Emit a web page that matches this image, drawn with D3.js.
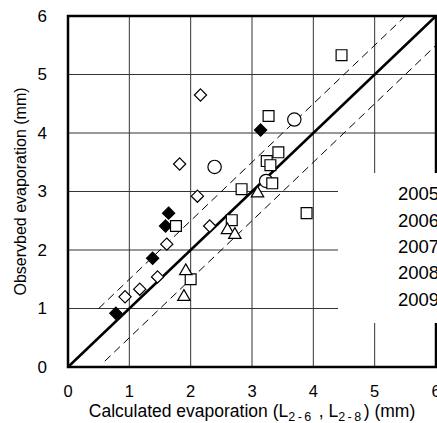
<!DOCTYPE html>
<html lang="en">
<head>
<meta charset="UTF-8" />
<title>Observed vs calculated evaporation</title>
<style>
  body { margin: 0; background: #fff; }
  svg text { font-family: "Liberation Sans", Arial, sans-serif; fill: #000; }
</style>
</head>
<body>
<svg width="437" height="423"></svg>
<script src="https://d3js.org/d3.v7.min.js"></script>
<script>
// data: [calculated, observed]
var years = ["2005", "2006", "2007", "2008", "2009"];
var shapes = ["filledDiamond", "diamond", "square", "triangle", "circle"];

var s2005 = [[0.78, 0.92], [1.38, 1.86], [1.59, 2.41], [1.64, 2.63], [3.14, 4.05]];
var s2006 = [[0.93, 1.20], [1.17, 1.33], [1.46, 1.54], [1.61, 2.10], [2.31, 2.41],
             [2.11, 2.92], [1.82, 3.47], [2.16, 4.65]];
var s2007 = [[1.76, 2.41], [2.00, 1.50], [2.83, 3.04], [2.67, 2.51], [3.24, 3.52],
             [3.30, 3.45], [3.33, 3.14], [3.43, 3.67], [3.27, 4.29], [4.46, 5.33], [3.89, 2.63]];
var s2008 = [[1.92, 1.64], [1.89, 1.20], [3.09, 2.97], [2.60, 2.34], [2.72, 2.26]];
var s2009 = [[2.39, 3.42], [3.69, 4.23], [3.23, 3.18]];
var series = [s2005, s2006, s2007, s2008, s2009];

var ticks = [0, 1, 2, 3, 4, 5, 6];

var svg = d3.select("svg"),
    margin = {top: 16, right: 1, bottom: 56, left: 68},
    width = +svg.attr("width") - margin.left - margin.right,
    height = +svg.attr("height") - margin.top - margin.bottom;

var x = d3.scaleLinear().domain([0, 6]).range([0, width]);
var y = d3.scaleLinear().domain([0, 6]).range([height, 0]);

var g = svg.append("g")
    .attr("transform", "translate(" + margin.left + "," + margin.top + ")");

// grid
g.append("g").selectAll("line").data(ticks.slice(1, 6)).enter().append("line")
    .attr("x1", d => x(d)).attr("x2", d => x(d))
    .attr("y1", 0).attr("y2", height)
    .attr("stroke", "#333").attr("stroke-width", 1);
g.append("g").selectAll("line").data(ticks.slice(1, 6)).enter().append("line")
    .attr("y1", d => y(d)).attr("y2", d => y(d))
    .attr("x1", 0).attr("x2", width)
    .attr("stroke", "#333").attr("stroke-width", 1);

// 1:1 line and +/-0.5 band
var line = d3.line().x(d => x(d[0])).y(d => y(d[1]));
g.append("path").datum([[0.5, 1.0], [5.5, 6.0]]).attr("d", line)
    .attr("fill", "none").attr("stroke", "#000").attr("stroke-width", 1)
    .attr("stroke-dasharray", "8,5");
g.append("path").datum([[0.6, 0.1], [6.0, 5.5]]).attr("d", line)
    .attr("fill", "none").attr("stroke", "#000").attr("stroke-width", 1)
    .attr("stroke-dasharray", "8,5");
g.append("path").datum([[0, 0], [6, 6]]).attr("d", line)
    .attr("fill", "none").attr("stroke", "#000").attr("stroke-width", 2.5);

// markers
var symType = {
  filledDiamond: d3.symbolDiamond2, diamond: d3.symbolDiamond2,
  square: d3.symbolSquare2, triangle: d3.symbolTriangle2, circle: d3.symbolCircle
};
var symSize = { filledDiamond: 95, diamond: 95, square: 150, triangle: 110, circle: 140 };

// circles go underneath the squares
[4, 0, 1, 2, 3].forEach(function(i) {
  var shp = shapes[i];
  g.append("g").selectAll("path").data(series[i]).enter().append("path")
      .attr("transform", d => "translate(" + x(d[0]) + "," + y(d[1]) + ")")
      .attr("d", d3.symbol().type(symType[shp]).size(symSize[shp]))
      .attr("fill", shp === "filledDiamond" ? "#000" : "#fff")
      .attr("stroke", "#000").attr("stroke-width", 1.2);
});

// frame
g.append("rect").attr("x", 0).attr("y", 0).attr("width", width).attr("height", height)
    .attr("fill", "none").attr("stroke", "#000").attr("stroke-width", 2.5);

// legend box (clipped on the right in the original)
var leg = svg.append("g").attr("transform", "translate(338,173)");
leg.append("rect").attr("width", 110).attr("height", 150).attr("fill", "#fff");
leg.selectAll("text").data(years).enter().append("text")
    .attr("x", 60).attr("y", (d, i) => 21 + i * 26.3)
    .attr("dy", "0.35em").style("font-size", "18.5px")
    .text(d => d);

// tick labels
g.append("g").selectAll("text").data(ticks).enter().append("text")
    .attr("x", -21).attr("y", d => y(d)).attr("dy", "0.35em")
    .attr("text-anchor", "end").style("font-size", "17px")
    .text(d => d);
g.append("g").selectAll("text").data(ticks).enter().append("text")
    .attr("x", d => x(d)).attr("y", height + 30)
    .attr("text-anchor", "middle").style("font-size", "16.5px")
    .text(d => d);

// axis titles
var xt = g.append("text").attr("x", width / 2).attr("y", height + 50)
    .attr("text-anchor", "middle").style("font-size", "17.5px");
xt.append("tspan").text("Calculated evaporation (L");
xt.append("tspan").attr("dy", 4).style("font-size", "12.5px").style("letter-spacing", "2.5px").text("2-6");
xt.append("tspan").attr("dy", -4).text(" , L");
xt.append("tspan").attr("dy", 4).style("font-size", "12.5px").style("letter-spacing", "2.5px").text("2-8");
xt.append("tspan").attr("dy", -4).text(") (mm)");

g.append("text")
    .attr("transform", "translate(-42," + (height / 2) + ") rotate(-90)")
    .attr("text-anchor", "middle").style("font-size", "16px")
    .text("Observbed evaporation (mm)");
</script>
</body>
</html>
